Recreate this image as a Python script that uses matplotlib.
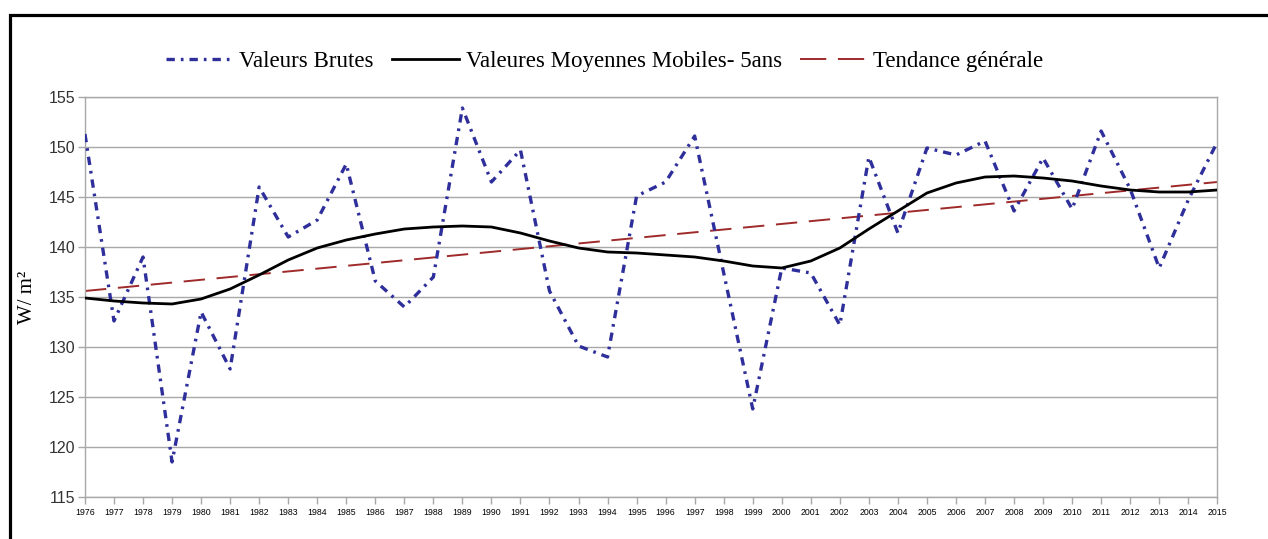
import matplotlib
matplotlib.use("Agg")
import matplotlib.pyplot as plt
from matplotlib.patches import Rectangle

# Données
annees = list(range(1976, 2016))
valeurs_brutes = [
    151.3, 132.6, 139.0, 118.5, 133.5, 127.8, 146.0, 141.0, 142.7, 148.3,
    136.6, 134.0, 137.0, 153.9, 146.5, 149.7, 135.6, 130.1, 129.0, 145.1,
    146.5, 151.1, 137.4, 123.8, 137.9, 137.4, 132.2, 149.0, 141.4, 149.9,
    149.2, 150.6, 143.6, 148.9, 143.8, 151.6, 145.8, 137.9, 144.7, 150.5,
]
moyennes_mobiles = [
    134.9, 134.6, 134.4, 134.3, 134.8, 135.8, 137.2, 138.7, 139.9, 140.7,
    141.3, 141.8, 142.0, 142.1, 142.0, 141.4, 140.6, 139.9, 139.5, 139.4,
    139.2, 139.0, 138.6, 138.1, 137.9, 138.6, 139.9, 141.8, 143.6, 145.4,
    146.4, 147.0, 147.1, 146.9, 146.6, 146.1, 145.7, 145.5, 145.5, 145.7,
]
tendance_annees = [1976, 2015]
tendance_valeurs = [135.6, 146.5]

y_ticks = [115, 120, 125, 130, 135, 140, 145, 150, 155]

serif = ["Liberation Serif", "DejaVu Serif"]
sans = ["Liberation Sans", "DejaVu Sans"]

fig = plt.figure(figsize=(12.68, 5.39), dpi=100)
ax = fig.add_axes([0.067, 0.078, 0.893, 0.742])

gris = "#a8a8a8"
ax.plot(annees, valeurs_brutes, color="#2f2f9c", lw=2.4,
        ls=(0, (2.5, 1.8, 0.8, 1.8)), label="Valeurs Brutes", zorder=3)
ax.plot(annees, moyennes_mobiles, color="black", lw=2.0,
        label="Valeures Moyennes Mobiles- 5ans", zorder=4)
ax.plot(tendance_annees, tendance_valeurs, color="#9e2a2a", lw=1.4,
        ls=(0, (11, 6)), label="Tendance générale", zorder=2)

ax.set_xlim(1976, 2015)
ax.set_ylim(115, 155)
ax.set_yticks(y_ticks)
ax.set_xticks(annees)
ax.set_xticklabels([str(a) for a in annees], fontsize=6.3, family=sans)
ax.set_yticklabels([str(v) for v in y_ticks], fontsize=11.5, family=sans,
                   color="#333333")
ax.grid(axis="y", color=gris, lw=1.0)
ax.set_axisbelow(True)
for s in ax.spines.values():
    s.set_color(gris)
    s.set_linewidth(1.0)
ax.tick_params(axis="both", color=gris, length=5, width=1.0)
ax.tick_params(axis="x", pad=3)
ax.tick_params(axis="y", pad=2)

ax.set_ylabel("W/ m²", fontsize=15, family=serif, labelpad=8)

leg = fig.legend(loc="center", bbox_to_anchor=(0.477, 0.886), ncol=3,
                 frameon=False, prop={"family": serif, "size": 16.5},
                 handlelength=2.9, handletextpad=0.3, columnspacing=0.8)
# deux tirets entiers dans la légende de la tendance
leg.get_lines()[2].set_linestyle((0, (13.5, 6)))

# cadre extérieur
fig.patches.append(Rectangle((9.5 / 1268, -0.05), 1.1, 1 - 14.5 / 539 + 0.05,
                             transform=fig.transFigure, fill=False,
                             edgecolor="black", lw=2.3, zorder=10))

fig.savefig("out.png", dpi=100)
